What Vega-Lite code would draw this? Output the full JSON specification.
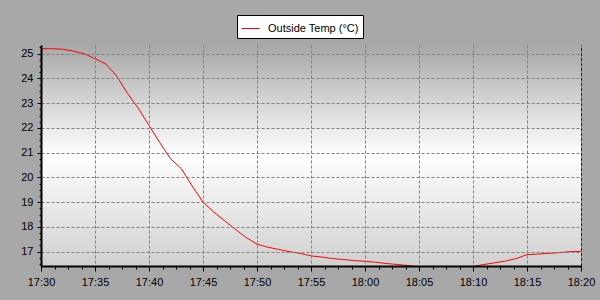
{
  "$schema": "https://vega.github.io/schema/vega-lite/v6.json",
  "width": 540,
  "height": 221,
  "autosize": {"type": "none"},
  "padding": {"left": 41, "top": 45, "right": 19, "bottom": 34},
  "background": "#a8a8a8",
  "config": {
    "view": {"stroke": "black", "strokeWidth": 1, "fill": "#eeeeee"},
    "axis": {
      "labelFont": "Liberation Sans",
      "labelFontSize": 11,
      "labelColor": "black",
      "tickColor": "black",
      "domainColor": "black",
      "title": null
    },
    "legend": {
      "labelFont": "Liberation Sans",
      "labelFontSize": 11,
      "labelColor": "black",
      "symbolStrokeColor": "#ff0000",
      "symbolOpacity": 1
    }
  },
  "data": {
    "values": [
      {"time": "2024-01-01T17:30:00", "temp": 25.2, "series": "Outside Temp (°C)"},
      {"time": "2024-01-01T17:31:00", "temp": 25.2, "series": "Outside Temp (°C)"},
      {"time": "2024-01-01T17:32:00", "temp": 25.18, "series": "Outside Temp (°C)"},
      {"time": "2024-01-01T17:33:00", "temp": 25.1, "series": "Outside Temp (°C)"},
      {"time": "2024-01-01T17:34:00", "temp": 25.0, "series": "Outside Temp (°C)"},
      {"time": "2024-01-01T17:35:00", "temp": 24.8, "series": "Outside Temp (°C)"},
      {"time": "2024-01-01T17:36:00", "temp": 24.58, "series": "Outside Temp (°C)"},
      {"time": "2024-01-01T17:37:00", "temp": 24.1, "series": "Outside Temp (°C)"},
      {"time": "2024-01-01T17:38:00", "temp": 23.4, "series": "Outside Temp (°C)"},
      {"time": "2024-01-01T17:39:00", "temp": 22.8, "series": "Outside Temp (°C)"},
      {"time": "2024-01-01T17:40:00", "temp": 22.1, "series": "Outside Temp (°C)"},
      {"time": "2024-01-01T17:41:00", "temp": 21.4, "series": "Outside Temp (°C)"},
      {"time": "2024-01-01T17:42:00", "temp": 20.75, "series": "Outside Temp (°C)"},
      {"time": "2024-01-01T17:43:00", "temp": 20.35, "series": "Outside Temp (°C)"},
      {"time": "2024-01-01T17:44:00", "temp": 19.65, "series": "Outside Temp (°C)"},
      {"time": "2024-01-01T17:45:00", "temp": 19.0, "series": "Outside Temp (°C)"},
      {"time": "2024-01-01T17:46:00", "temp": 18.6, "series": "Outside Temp (°C)"},
      {"time": "2024-01-01T17:47:00", "temp": 18.25, "series": "Outside Temp (°C)"},
      {"time": "2024-01-01T17:48:00", "temp": 17.9, "series": "Outside Temp (°C)"},
      {"time": "2024-01-01T17:49:00", "temp": 17.57, "series": "Outside Temp (°C)"},
      {"time": "2024-01-01T17:50:00", "temp": 17.3, "series": "Outside Temp (°C)"},
      {"time": "2024-01-01T17:51:00", "temp": 17.18, "series": "Outside Temp (°C)"},
      {"time": "2024-01-01T17:52:00", "temp": 17.09, "series": "Outside Temp (°C)"},
      {"time": "2024-01-01T17:53:00", "temp": 17.0, "series": "Outside Temp (°C)"},
      {"time": "2024-01-01T17:54:00", "temp": 16.93, "series": "Outside Temp (°C)"},
      {"time": "2024-01-01T17:55:00", "temp": 16.83, "series": "Outside Temp (°C)"},
      {"time": "2024-01-01T17:56:00", "temp": 16.78, "series": "Outside Temp (°C)"},
      {"time": "2024-01-01T17:57:00", "temp": 16.72, "series": "Outside Temp (°C)"},
      {"time": "2024-01-01T17:58:00", "temp": 16.68, "series": "Outside Temp (°C)"},
      {"time": "2024-01-01T17:59:00", "temp": 16.64, "series": "Outside Temp (°C)"},
      {"time": "2024-01-01T18:00:00", "temp": 16.61, "series": "Outside Temp (°C)"},
      {"time": "2024-01-01T18:01:00", "temp": 16.57, "series": "Outside Temp (°C)"},
      {"time": "2024-01-01T18:02:00", "temp": 16.52, "series": "Outside Temp (°C)"},
      {"time": "2024-01-01T18:03:00", "temp": 16.48, "series": "Outside Temp (°C)"},
      {"time": "2024-01-01T18:04:00", "temp": 16.44, "series": "Outside Temp (°C)"},
      {"time": "2024-01-01T18:05:00", "temp": 16.38, "series": "Outside Temp (°C)"},
      {"time": "2024-01-01T18:06:00", "temp": 16.36, "series": "Outside Temp (°C)"},
      {"time": "2024-01-01T18:07:00", "temp": 16.35, "series": "Outside Temp (°C)"},
      {"time": "2024-01-01T18:08:00", "temp": 16.35, "series": "Outside Temp (°C)"},
      {"time": "2024-01-01T18:09:00", "temp": 16.36, "series": "Outside Temp (°C)"},
      {"time": "2024-01-01T18:10:00", "temp": 16.4, "series": "Outside Temp (°C)"},
      {"time": "2024-01-01T18:11:00", "temp": 16.48, "series": "Outside Temp (°C)"},
      {"time": "2024-01-01T18:12:00", "temp": 16.55, "series": "Outside Temp (°C)"},
      {"time": "2024-01-01T18:13:00", "temp": 16.62, "series": "Outside Temp (°C)"},
      {"time": "2024-01-01T18:14:00", "temp": 16.72, "series": "Outside Temp (°C)"},
      {"time": "2024-01-01T18:15:00", "temp": 16.88, "series": "Outside Temp (°C)"},
      {"time": "2024-01-01T18:16:00", "temp": 16.9, "series": "Outside Temp (°C)"},
      {"time": "2024-01-01T18:17:00", "temp": 16.93, "series": "Outside Temp (°C)"},
      {"time": "2024-01-01T18:18:00", "temp": 16.96, "series": "Outside Temp (°C)"},
      {"time": "2024-01-01T18:19:00", "temp": 17.0, "series": "Outside Temp (°C)"},
      {"time": "2024-01-01T18:20:00", "temp": 17.01, "series": "Outside Temp (°C)"}
    ]
  },
  "resolve": {"axis": {"x": "independent", "y": "independent"}},
  "layer": [
    {
      "data": {"values": [{}]},
      "mark": {
        "type": "rect",
        "color": {
          "gradient": "linear",
          "x1": 0, "y1": 0, "x2": 0, "y2": 1,
          "stops": [
            {"offset": 0, "color": "#a8a8a8"},
            {"offset": 0.5, "color": "#ffffff"},
            {"offset": 1, "color": "#d0d0d0"}
          ]
        }
      },
      "encoding": {}
    },
    {
      "mark": {"type": "line", "clip": true, "strokeWidth": 1},
      "encoding": {
        "x": {
          "field": "time",
          "type": "temporal",
          "scale": {"nice": false},
          "axis": {
            "orient": "bottom",
            "format": "%H:%M",
            "zindex": 1,
            "grid": true,
            "gridColor": "#808080",
            "gridDash": [3, 2],
            "gridWidth": 1,
            "domainWidth": 2,
            "tickSize": 5,
            "labelPadding": 5,
            "labelFlush": false,
            "labelOverlap": false
          }
        },
        "y": {
          "field": "temp",
          "type": "quantitative",
          "scale": {"domain": [16.42, 25.35], "nice": false, "zero": false},
          "axis": {
            "orient": "left",
            "values": [17, 18, 19, 20, 21, 22, 23, 24, 25],
            "zindex": 1,
            "grid": true,
            "gridColor": "#808080",
            "gridDash": [3, 2],
            "gridWidth": 1,
            "domainWidth": 2,
            "tickSize": 4,
            "labelPadding": 4,
            "labelOverlap": false
          }
        },
        "color": {
          "field": "series",
          "type": "nominal",
          "scale": {"range": ["#ff0000"]},
          "legend": {
            "title": null,
            "orient": "none",
            "legendX": 196,
            "legendY": -30,
            "fillColor": "white",
            "strokeColor": "black",
            "padding": 4,
            "symbolType": "stroke",
            "symbolSize": 324,
            "symbolStrokeWidth": 1,
            "symbolStrokeColor": "#ff0000",
            "labelOffset": 8
          }
        }
      }
    },
    {
      "mark": {"type": "line", "opacity": 0, "clip": true},
      "encoding": {
        "x": {
          "field": "time",
          "type": "temporal",
          "axis": {
            "orient": "bottom",
            "zindex": 1,
            "values": [1704130275000, 1704130350000, 1704130425000, 1704130575000, 1704130650000, 1704130725000, 1704130875000, 1704130950000, 1704131025000, 1704131175000, 1704131250000, 1704131325000, 1704131475000, 1704131550000, 1704131625000, 1704131775000, 1704131850000, 1704131925000, 1704132075000, 1704132150000, 1704132225000, 1704132375000, 1704132450000, 1704132525000, 1704132675000, 1704132750000, 1704132825000, 1704132975000, 1704133050000, 1704133125000],
            "grid": false,
            "domain": false,
            "labels": false,
            "tickSize": 3
          }
        },
        "y": {
          "field": "temp",
          "type": "quantitative",
          "axis": {
            "orient": "left",
            "zindex": 1,
            "values": [16.5, 16.75, 17.25, 17.5, 17.75, 18.25, 18.5, 18.75, 19.25, 19.5, 19.75, 20.25, 20.5, 20.75, 21.25, 21.5, 21.75, 22.25, 22.5, 22.75, 23.25, 23.5, 23.75, 24.25, 24.5, 24.75, 25.25],
            "grid": false,
            "domain": false,
            "labels": false,
            "tickSize": 2
          }
        }
      }
    }
  ]
}
